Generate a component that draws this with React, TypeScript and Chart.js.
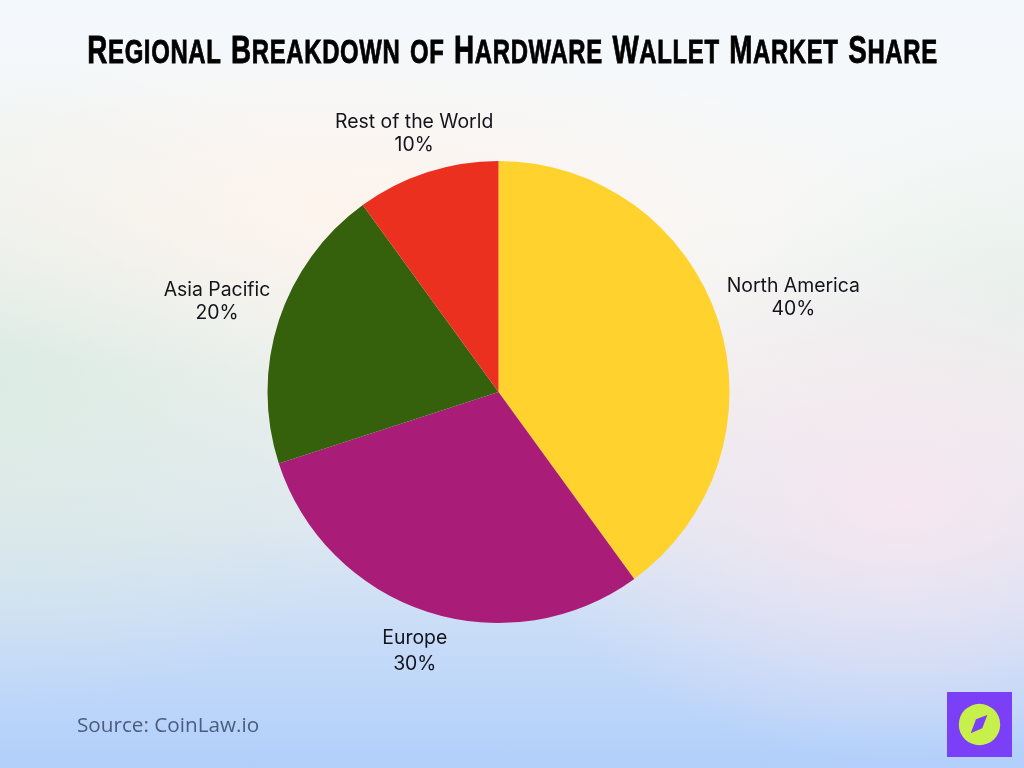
import React, { useEffect, useRef } from "react";
import { Chart, registerables } from "chart.js";

Chart.register(...registerables);

const categories = ["North America", "Europe", "Asia Pacific", "Rest of the World"];
const shares = [40, 30, 20, 10];
const sliceColors = ["#FFD22E", "#A91C78", "#35600C", "#EB3020"];
const labelGaps = [79, 40, 65, 42];
const titleWords = ["Regional", "Breakdown", "of", "Hardware", "Wallet", "Market", "Share"];

const labelPlugin = {
  id: "sliceLabels",
  afterDatasetsDraw(chart: any) {
    const { ctx } = chart;
    const arcs = chart.getDatasetMeta(0).data;
    ctx.save();
    ctx.font = '400 19.4px "Inter", sans-serif';
    ctx.fillStyle = "#14141c";
    ctx.textAlign = "center";
    ctx.textBaseline = "middle";
    arcs.forEach((arc: any, i: number) => {
      const p = arc.getProps(["x", "y", "startAngle", "endAngle", "outerRadius"], true);
      const mid = (p.startAngle + p.endAngle) / 2;
      const r = p.outerRadius + labelGaps[i];
      const x = p.x + Math.cos(mid) * r;
      const y = p.y + Math.sin(mid) * r;
      const gap = i === 1 ? 13.5 : 11.5;
      ctx.fillText(categories[i], x, y - gap + 1.5);
      ctx.fillText(`${shares[i]}%`, x, y + gap + 1);
    });
    ctx.restore();
  },
};

export default function App() {
  const ref = useRef<HTMLCanvasElement>(null);
  useEffect(() => {
    const chart = new Chart(ref.current as HTMLCanvasElement, {
      type: "pie",
      data: {
        labels: categories,
        datasets: [{ data: shares, backgroundColor: sliceColors, borderWidth: 0 }],
      },
      options: {
        animation: false,
        responsive: false,
        layout: { padding: { left: 267.5, right: 294.5, top: 161, bottom: 145 } },
        plugins: { legend: { display: false }, tooltip: { enabled: false }, title: { display: false } },
      },
      plugins: [labelPlugin],
    } as any);
    return () => chart.destroy();
  }, []);

  return (
    <div
      style={{
        position: "absolute",
        left: 0,
        top: 0,
        width: 1024,
        height: 768,
        overflow: "hidden",
        background:
          "radial-gradient(ellipse 380px 260px at 900px 500px, rgba(248,230,240,0.9), rgba(248,230,240,0) 100%)," +
          "radial-gradient(ellipse 560px 170px at 330px 210px, rgba(254,243,236,0.9), rgba(254,243,236,0) 100%)," +
          "radial-gradient(ellipse 420px 330px at 0px 380px, rgba(216,234,226,0.85), rgba(216,234,226,0) 100%)," +
          "radial-gradient(ellipse 300px 200px at 1024px 300px, rgba(228,240,234,0.8), rgba(228,240,234,0) 100%)," +
          "linear-gradient(180deg, #F3F8FC 0%, #F7F8F7 28%, #F0F1EF 50%, #DFE8F1 68%, #C6DBF8 84%, #B1CFFB 100%)",
      }}
    >
      <canvas ref={ref} width={1024} height={768} style={{ position: "absolute", left: 0, top: 0 }} />
      <div
        style={{
          position: "absolute",
          left: -200,
          top: 26,
          width: 1424,
          textAlign: "center",
          fontFamily: '"Liberation Sans", sans-serif',
          fontWeight: 700,
          lineHeight: "48px",
          textTransform: "uppercase",
          letterSpacing: 0.9,
          wordSpacing: 3,
          color: "#000",
          WebkitTextStroke: "0.8px #000",
          whiteSpace: "nowrap",
          transform: "translateX(0.5px) scaleX(0.714)",
        }}
      >
        {titleWords.map((w, i) => {
          const isCap = w[0] !== "o";
          return (
            <React.Fragment key={i}>
              {i > 0 ? <span style={{ fontSize: 34 }}> </span> : null}
              <span style={{ fontSize: isCap ? 39 : 33.5 }}>{w[0]}</span>
              <span style={{ fontSize: 33.5 }}>{w.slice(1)}</span>
            </React.Fragment>
          );
        })}
      </div>
      <div
        style={{
          position: "absolute",
          left: 77,
          top: 710,
          fontFamily: '"Open Sans", sans-serif',
          fontSize: 20.7,
          lineHeight: "28px",
          color: "#4C5C7C",
          whiteSpace: "nowrap",
        }}
      >
        Source: CoinLaw.io
      </div>
      <svg style={{ position: "absolute", left: 947, top: 692 }} width={65} height={65} viewBox="0 0 65 65">
        <rect width="65" height="65" fill="#7A3FF6" />
        <circle cx="32.5" cy="32.5" r="20.7" fill="#C8F04A" />
        <path d="M40.3 23 L29 27.3 L23.7 41.3 L35.3 36.3 Z" fill="#7A3FF6" />
      </svg>
    </div>
  );
}
